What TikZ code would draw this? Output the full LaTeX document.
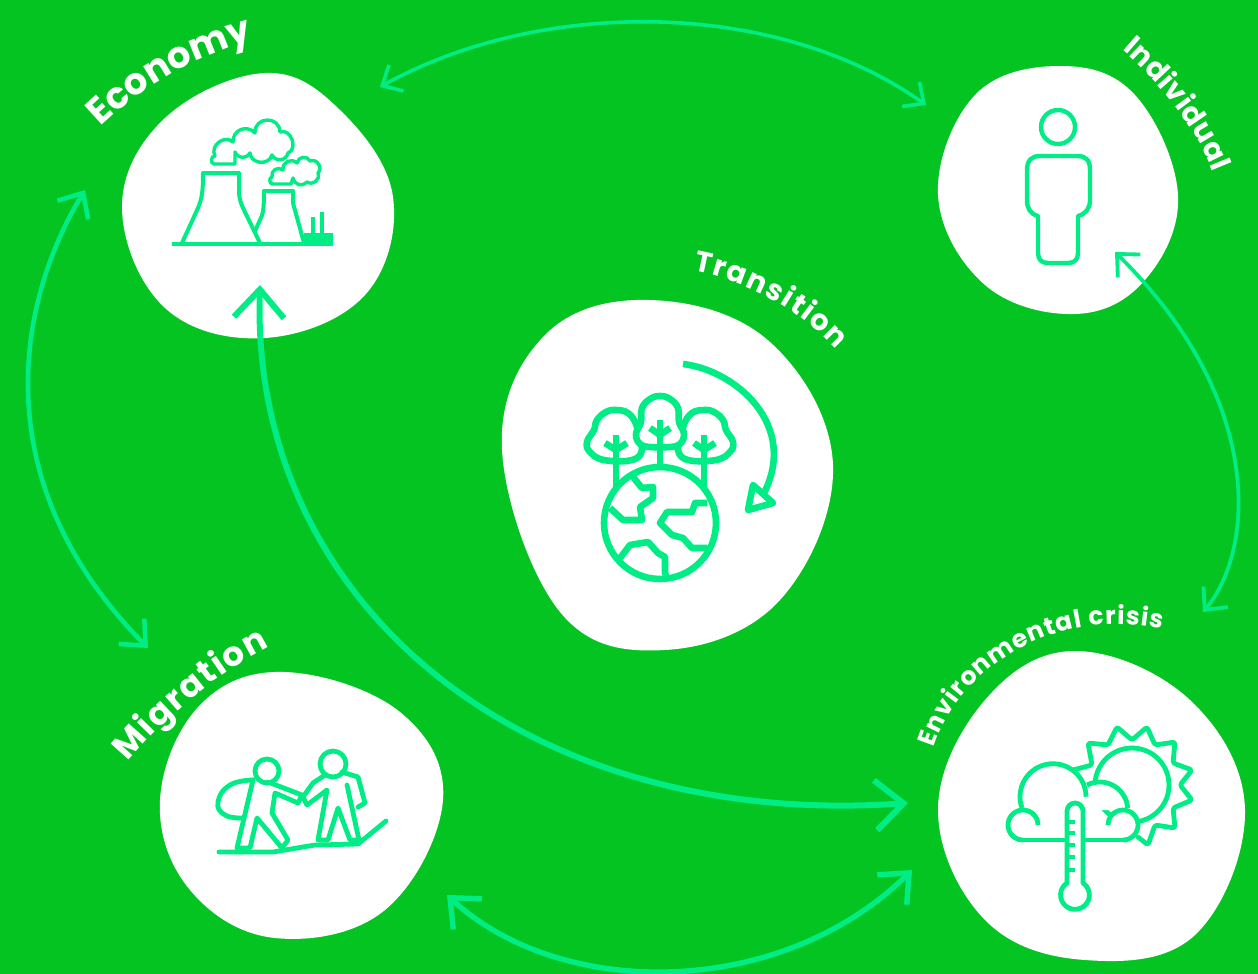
\documentclass[tikz,border=0pt]{standalone}
\usepackage{fontspec}
\usepackage{xcolor}
\setmainfont{Poppins}
\usetikzlibrary{arrows.meta, decorations.text}
\definecolor{leafbg}{RGB}{3, 196, 32}
\definecolor{mint}{RGB}{0, 236, 133}

\begin{document}
\begin{tikzpicture}[
    x=1pt, y=-1pt,
    blob/.style={fill=white, draw=none},
    icon/.style={draw=mint, line width=4.8pt, line cap=round, line join=round},
    iconthin/.style={icon, line width=4pt},
    iconthick/.style={icon, line width=6.6pt},
    puff/.style={icon, line width=3.4pt, looseness=1.3},
    link/.style n args={3}{draw=mint, line width=#1pt, {Straight Barb[length=#2pt, width=#3pt, line width=#1pt]}-{Straight Barb[length=#2pt, width=#3pt, line width=#1pt]}},
    linklabel/.style n args={2}{decorate, decoration={text along path, text align={fit to path}, text={|\color{white}\bfseries\fontsize{#1}{#1}\selectfont|#2}}}
  ]
    \fill[leafbg] (0,0) rectangle (1258,974);
    \path[use as bounding box] (0,0) rectangle (1258,974);

    % blobs
    \fill[blob] plot[smooth cycle, tension=0.65] coordinates {(265,73) (340,110) (393,197) (365,295) (265,338) (165,308) (122,207) (165,118)};
    \fill[blob] plot[smooth cycle, tension=0.65] coordinates {(1060,66) (1135,95) (1178,195) (1145,280) (1075,314) (985,285) (938,195) (975,95)};
    \fill[blob] plot[smooth cycle, tension=0.65] coordinates {(650,300) (770,342) (833,465) (780,600) (665,650) (560,612) (502,450) (545,335)};
    \fill[blob] plot[smooth cycle, tension=0.65] coordinates {(285,672) (400,712) (443,800) (385,910) (275,938) (190,890) (160,800) (200,705)};
    \fill[blob] plot[smooth cycle, tension=0.65] coordinates {(1075,651) (1190,700) (1245,810) (1195,935) (1085,960) (985,920) (938,810) (985,700)};

    % ends of the connectors
    \coordinate (economyTop) at (380,87);
    \coordinate (economyLeft) at (85,190);
    \coordinate (economyBottom) at (260,285);
    \coordinate (individualTop) at (926,105);
    \coordinate (individualBottom) at (1115,252);
    \coordinate (migrationTop) at (148,648);
    \coordinate (migrationRight) at (447,895);
    \coordinate (crisisTop) at (1203,612);
    \coordinate (crisisLeft) at (908,803);
    \coordinate (crisisBottom) at (912,870);

    \draw[link={3.6}{16}{30}] (economyTop) .. controls (540,-2) and (775,-2) .. (individualTop);
    \draw[link={4.6}{20}{36}] (economyLeft) .. controls (18,300) and (-18,480) .. (migrationTop);
    \draw[link={6}{28}{50}] (economyBottom) .. controls (250,600) and (520,830) .. (crisisLeft);
    \draw[link={3.8}{17}{32}] (individualBottom) .. controls (1265,400) and (1255,550) .. (crisisTop);
    \draw[link={5.4}{24}{42}] (migrationRight) .. controls (560,1000) and (780,1000) .. (crisisBottom);

    % factory
    \draw[iconthin, line cap=butt] (172,244) -- (333,244);
    \fill[mint] (304,233) rectangle (333,246);
    \draw[iconthin, line cap=butt] (313,233) -- (313,217) (322,233) -- (322,212);
    \draw[iconthin] (182,243) -- (198,208) .. controls (202,198) and (203,192) .. (203,173) -- (239,173) -- (239,192) .. controls (239,198) and (241,204) .. (244,210) -- (260,243);
    \draw[iconthin] (255,231) -- (260,220) .. controls (263,214) and (264,210) .. (264,191) -- (293,191) -- (293,203) -- (304,243);
    \draw[puff] (235,164) -- (214,164) to[bend left=90] (215,156) to[bend left=80] (233,142) to[bend left=70] (255,133) to[bend left=90, looseness=1.7] (280,132) to[bend left=90] (288,153) to[bend left=70] (272,155) to[bend left=80] (250,153) to[bend left=60] (235,152) -- cycle;
    \draw[puff] (291,184) -- (273,184) to[bend left=90] (272,177) to[bend left=70] (283,170) to[bend left=70] (297,163) to[bend left=70] (310,161) to[bend left=80] (318,173) to[bend left=70] (307,182) to[bend left=60] (293,178) -- cycle;

    % person
    \draw[iconthin, line width=4.4pt] (1058,127) circle (17);
    \draw[iconthin, line width=4.4pt] (1027,170) .. controls (1027,160) and (1032,156) .. (1040,156) -- (1077,156) .. controls (1086,156) and (1090,160) .. (1090,170) -- (1090,200) .. controls (1090,208) and (1086,214) .. (1078,216) -- (1078,253) .. controls (1078,260) and (1074,263) .. (1068,263) -- (1048,263) .. controls (1042,263) and (1038,260) .. (1038,253) -- (1038,216) .. controls (1030,214) and (1027,208) .. (1027,200) -- cycle;

    % trees and globe
    \draw[iconthick, fill=white] plot[smooth cycle, tension=0.7] coordinates {(604,460) (590,452) (587,442) (594,430) (597,420) (606,412) (616,410) (628,413) (636,424) (638,436) (642,450) (632,460)};
    \draw[iconthick, fill=white] plot[smooth cycle, tension=0.7] coordinates {(716,460) (730,452) (733,442) (726,430) (723,420) (714,412) (704,410) (692,413) (684,424) (682,436) (678,450) (688,460)};
    \draw[iconthick, fill=white] plot[smooth cycle, tension=0.7] coordinates {(650,447) (640,444) (636,434) (641,422) (642,408) (650,399) (660,396) (670,399) (678,408) (679,422) (684,434) (680,444) (670,447)};
    \draw[iconthick, line cap=butt] (616,435) -- (616,488) (660,420) -- (660,465) (704,435) -- (704,488);
    \draw[iconthick, line cap=butt] (605,443) -- (616,450) -- (627,443) (650,428) -- (660,435) -- (670,428) (694,443) -- (704,450) -- (715,443);
    \draw[iconthick, fill=white] (660,523) circle (56);
    \draw[iconthick, line cap=butt] (633,477) -- (642,488) -- (653,487) -- (653,498) -- (640,507) -- (642,520) -- (623,520) -- (610,508);
    \draw[iconthick, line cap=butt] (707,503) -- (695,503) -- (692,512) -- (667,512) -- (660,523) -- (672,535) -- (683,538) -- (692,548) -- (707,548);
    \draw[iconthick, line cap=butt] (620,558) -- (630,545) -- (648,542) -- (658,553) -- (665,557) -- (665,573) -- (667,578);
    \draw[iconthick, line cap=butt] (683,364) .. controls (735,370) and (800,425) .. (763,495);
    \draw[iconthick, fill=white] (753,485) -- (773,503) -- (748,510) -- cycle;

    % two walkers
    \draw[icon] (219,852) -- (273,852) -- (315,845) -- (358,844) -- (386,821);
    \draw[icon] (267,771) circle (12);
    \draw[icon] (253,780) -- (237,848) -- (250,848) -- (257,818) -- (282,848) -- (288,840) -- (272,813) -- (275,793) -- (298,803) -- (302,795) -- (268,782);
    \draw[icon] plot[smooth, tension=0.8] coordinates {(253,780) (230,785) (218,802) (225,815) (243,818)};
    \draw[icon] (333,764) circle (13);
    \draw[icon] (325,775) -- (313,783) -- (303,797) -- (307,805) -- (327,790) -- (318,840) -- (328,840) -- (338,808) -- (350,840) -- (359,840) -- (347,785) (342,772) -- (358,777) -- (365,803) -- (358,807);

    % weather
    \draw[icon, rounded corners=2.5pt] (1073,770) -- (1092,765) -- (1088,743) -- (1108,745) -- (1117,727) -- (1132,740) -- (1147,727) -- (1155,745) -- (1175,742) -- (1173,763) -- (1192,770) -- (1180,785) -- (1192,800) -- (1173,808) -- (1175,828) -- (1155,825) -- (1148,845) -- (1138,837);
    \draw[icon] (1132,785) circle (37);
    \fill[white] (1023,825) circle (15) (1053,797) circle (33) (1100,810) circle (28) (1123,825) circle (15) (1023,810) rectangle (1123,840);
    \draw[icon, line cap=butt] (1023,840) arc (90:360:15);
    \draw[icon] (1023,840) -- (1123,840);
    \draw[icon, line cap=butt] (1123,840) arc (90:-180:15);
    \draw[icon, line cap=butt] (1022,808) arc (160:360:33);
    \draw[icon, line cap=butt] (1087,785) arc (243:356:28);
    \draw[icon, fill=white] (1067,883) -- (1067,811) arc (180:360:8) -- (1083,883) arc (-56:236:14.4) -- cycle;
    \draw[icon, line width=3.6pt, line cap=butt] (1068,822) -- (1075,822) (1068,833) -- (1075,833) (1068,845) -- (1075,845) (1068,857) -- (1075,857) (1068,870) -- (1075,870);

    % labels
    \path[linklabel={37}{Economy}] (101,127) .. controls (150,80) and (200,55) .. (247,42);
    \path[linklabel={29}{Individual}] (1122,50) .. controls (1155,78) and (1195,125) .. (1213,172);
    \path[linklabel={29}{Transition}] (693,271) .. controls (745,280) and (800,310) .. (836,350);
    \path[linklabel={34}{Migration}] (128,762) .. controls (170,712) and (220,672) .. (270,647);
    \path[linklabel={25}{Environmental crisis}] (934,748) .. controls (955,680) and (1040,605) .. (1162,629);
  \end{tikzpicture}
\end{document}
